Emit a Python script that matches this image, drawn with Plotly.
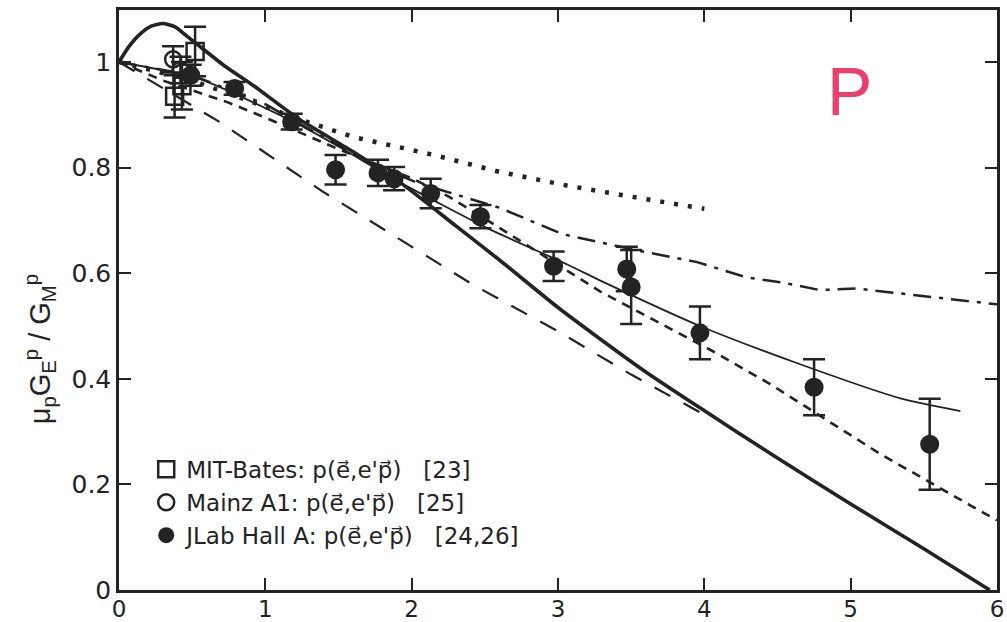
import plotly.graph_objects as go

INK = "#232323"

# ---- data points ----
bates_x = [0.38, 0.43, 0.52]
bates_y = [0.935, 0.955, 1.02]
bates_err = [0.04, 0.045, 0.047]

mainz_x = [0.37, 0.42]
mainz_y = [1.005, 0.985]
mainz_err = [0.025, 0.025]

jlab_x = [0.49, 0.79, 1.18, 1.48, 1.77, 1.88, 2.13, 2.47, 2.97, 3.47, 3.50, 3.97, 4.75, 5.54]
jlab_y = [0.975, 0.950, 0.887, 0.796, 0.790, 0.779, 0.751, 0.707, 0.613, 0.608, 0.574, 0.487, 0.384, 0.276]
jlab_err = [0.02, 0.012, 0.015, 0.028, 0.025, 0.022, 0.028, 0.022, 0.028, 0.042, 0.07, 0.05, 0.053, 0.086]

# ---- model curves ----
thick_x = [0.0, 0.07, 0.14, 0.22, 0.30, 0.38, 0.46, 0.55, 0.72, 0.92, 1.24, 1.60, 1.92, 2.30, 2.60, 3.00, 3.29, 3.60, 3.97, 4.47, 5.00, 5.50, 5.95]
thick_y = [1.0, 1.03, 1.052, 1.068, 1.073, 1.067, 1.05, 1.03, 0.993, 0.955, 0.89, 0.83, 0.772, 0.69, 0.625, 0.535, 0.475, 0.413, 0.345, 0.255, 0.163, 0.078, 0.0]

thin_x = [0.0, 0.55, 1.24, 1.50, 1.92, 2.52, 3.06, 3.29, 3.97, 4.65, 5.34, 5.75]
thin_y = [1.0, 0.968, 0.88, 0.84, 0.772, 0.685, 0.617, 0.586, 0.50, 0.428, 0.363, 0.339]

sdash_x = [0.0, 0.30, 0.74, 0.98, 1.50, 2.00, 2.26, 2.60, 3.29, 4.04, 4.45, 4.70, 5.20, 5.82, 6.0]
sdash_y = [1.0, 0.965, 0.924, 0.897, 0.835, 0.78, 0.744, 0.686, 0.565, 0.455, 0.39, 0.346, 0.258, 0.16, 0.132]

ldash_x = [0.0, 0.69, 1.39, 1.99, 2.42, 3.00, 3.50, 4.00]
ldash_y = [1.0, 0.886, 0.755, 0.652, 0.578, 0.49, 0.408, 0.332]

dot_x = [0.0, 0.5, 0.9, 1.24, 1.60, 2.15, 2.60, 3.06, 3.50, 4.00]
dot_y = [1.0, 0.965, 0.925, 0.891, 0.858, 0.824, 0.792, 0.766, 0.745, 0.722]

dd_x = [0.0, 0.5, 1.0, 1.67, 2.04, 2.60, 3.03, 3.51, 3.95, 4.29, 4.54, 4.79, 5.04, 5.29, 5.54, 5.80, 6.0]
dd_y = [1.0, 0.975, 0.92, 0.815, 0.771, 0.724, 0.674, 0.645, 0.621, 0.592, 0.582, 0.568, 0.571, 0.563, 0.555, 0.548, 0.541]

x_ticks = [0, 1, 2, 3, 4, 5, 6]
y_ticks = [0, 0.2, 0.4, 0.6, 0.8, 1]
y_tick_text = ["0", "0.2", "0.4", "0.6", "0.8", "1"]

NB = "\u00a0"
ARR = "\u20d7"


def vec(ch):
    return f"{ch}{ARR}"


bates_name = f"MIT-Bates: p({vec('e')},e'{vec('p')}){NB}{NB}{NB}[23]"
mainz_name = f"Mainz A1: p({vec('e')},e'{vec('p')}){NB}{NB}{NB}[25]"
jlab_name = f"JLab Hall A: p({vec('e')},e'{vec('p')}){NB}{NB}{NB}[24,26]"
y_title = "μ<sub>p</sub>G<sub>E</sub><sup>p</sup> / G<sub>M</sub><sup>p</sup>"

fig = go.Figure()

fig.add_trace(go.Scatter(x=ldash_x, y=ldash_y, mode="lines", showlegend=False,
                         line=dict(color=INK, width=2.2, dash="18px,15px")))
fig.add_trace(go.Scatter(x=dot_x, y=dot_y, mode="lines", showlegend=False,
                         line=dict(color=INK, width=4.5, dash="4px,10px")))
fig.add_trace(go.Scatter(x=dd_x, y=dd_y, mode="lines", showlegend=False,
                         line=dict(color=INK, width=2.5, dash="18px,8px,4px,8px")))
fig.add_trace(go.Scatter(x=sdash_x, y=sdash_y, mode="lines", showlegend=False,
                         line=dict(color=INK, width=2.6, dash="9px,7px")))
fig.add_trace(go.Scatter(x=thin_x, y=thin_y, mode="lines", showlegend=False,
                         line=dict(color=INK, width=1.8, shape="spline", smoothing=0.6)))
fig.add_trace(go.Scatter(x=thick_x, y=thick_y, mode="lines", showlegend=False,
                         line=dict(color=INK, width=3.6, shape="spline", smoothing=0.6)))

err_style = dict(type="data", color=INK, thickness=2.5, width=11)

fig.add_trace(go.Scatter(x=bates_x, y=bates_y, mode="markers", name=bates_name,
                         error_y=dict(array=bates_err, **err_style),
                         marker=dict(symbol="square-open", size=17, color=INK, line=dict(width=2.5, color=INK))))
fig.add_trace(go.Scatter(x=mainz_x, y=mainz_y, mode="markers", name=mainz_name,
                         error_y=dict(array=mainz_err, **err_style),
                         marker=dict(symbol="circle-open", size=16, color=INK, line=dict(width=2.5, color=INK))))
fig.add_trace(go.Scatter(x=jlab_x, y=jlab_y, mode="markers", name=jlab_name,
                         error_y=dict(array=jlab_err, **err_style),
                         marker=dict(symbol="circle", size=19, color=INK)))

fig.add_annotation(x=0.832, y=0.86, xref="paper", yref="paper", text="P", showarrow=False,
                   xanchor="center", yanchor="middle",
                   font=dict(family="Liberation Sans", size=68, color="#ea4070"))

fig.add_annotation(x=-0.09, y=0.415, xref="paper", yref="paper", text=y_title, showarrow=False,
                   textangle=-90, xanchor="center", yanchor="middle",
                   font=dict(family="Liberation Sans", size=29, color=INK))

axis_common = dict(showgrid=False, zeroline=False, showline=True, linecolor=INK, linewidth=2.5,
                   mirror="ticks", ticks="inside", ticklen=12, tickwidth=2, tickcolor=INK,
                   automargin=False)

fig.update_layout(
    width=1007, height=622,
    margin=dict(l=119, r=10, t=10, b=32),
    paper_bgcolor="white", plot_bgcolor="white",
    xaxis=dict(range=[0, 6], tickvals=x_ticks, ticklabelstandoff=-3,
               tickfont=dict(family="DejaVu Sans", size=23, color=INK), **axis_common),
    yaxis=dict(range=[0, 1.0985], tickvals=y_ticks, ticktext=y_tick_text,
               tickfont=dict(family="DejaVu Sans", size=25, color=INK), **axis_common),
    legend=dict(x=0.031, y=0.245, xanchor="left", yanchor="top", bgcolor="rgba(0,0,0,0)",
                font=dict(family="DejaVu Sans", size=23, color=INK), tracegroupgap=0,
                itemwidth=30),
    font=dict(family="DejaVu Sans", color=INK),
)

fig.write_html("out.html")
